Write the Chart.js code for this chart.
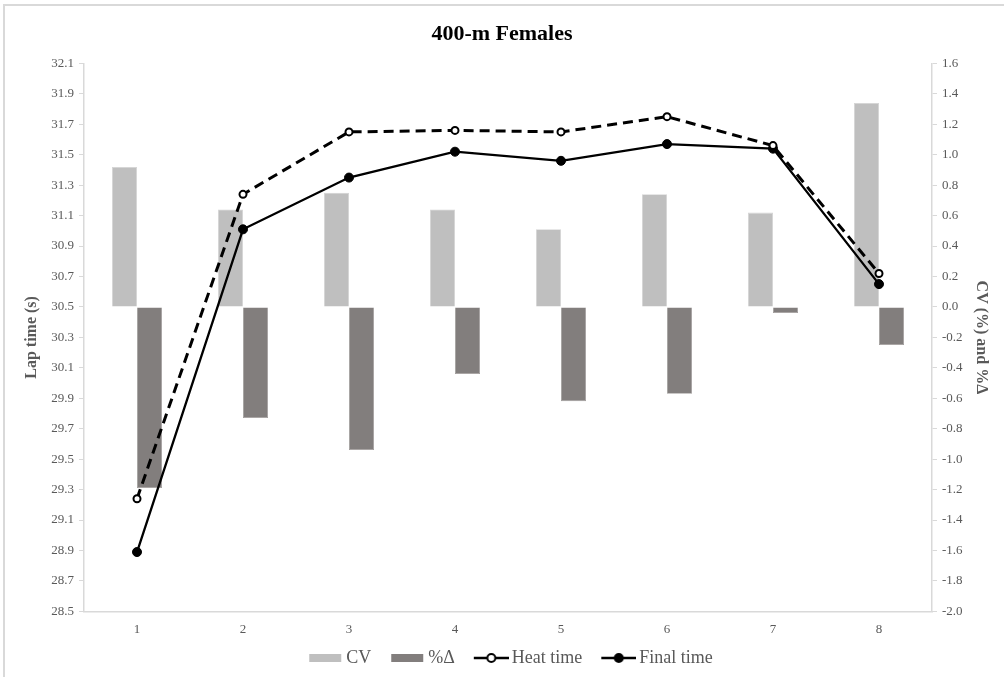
<!DOCTYPE html>
<html>
<head>
<meta charset="utf-8">
<script src="https://cdn.jsdelivr.net/npm/chart.js@4/dist/chart.umd.min.js"></script>
<style>
html,body{margin:0;padding:0;background:#fff;}
#wrap{width:1004px;height:677px;position:relative;}
</style>
</head>
<body>
<div id="wrap"><canvas id="c" width="1004" height="677"></canvas></div>
<script>
const laps = ['1','2','3','4','5','6','7','8'];
const cvValues = [0.92, 0.64, 0.75, 0.64, 0.51, 0.74, 0.62, 1.34];
const pctDelta = [-1.19, -0.73, -0.94, -0.44, -0.62, -0.57, -0.04, -0.25];
const heatTime = [29.24, 31.24, 31.65, 31.66, 31.65, 31.75, 31.56, 30.72];
const finalTime = [28.89, 31.01, 31.35, 31.52, 31.46, 31.57, 31.54, 30.65];
const leftTicks = [28.5,28.7,28.9,29.1,29.3,29.5,29.7,29.9,30.1,30.3,30.5,30.7,30.9,31.1,31.3,31.5,31.7,31.9,32.1];
const rightTicks = [-2.0,-1.8,-1.6,-1.4,-1.2,-1.0,-0.8,-0.6,-0.4,-0.2,0.0,0.2,0.4,0.6,0.8,1.0,1.2,1.4,1.6];
const legendNames = ['CV','%Δ','Heat time','Final time'];

const FONT = "'Liberation Serif', 'Times New Roman', serif";
Chart.defaults.font.family = FONT;
const GRAY_TXT = '#595959';
const AXIS_LINE = '#d9d9d9';
const CV_COL = '#bfbfbf';
const PD_COL = '#827e7d';

// legend symbol canvas (50 wide) is centred on the legend box centre
function makeSym(kind){
  const cv = document.createElement('canvas');
  cv.width = 50; cv.height = 14;
  const g = cv.getContext('2d');
  if (kind === 'cv' || kind === 'pd') {
    g.fillStyle = kind === 'cv' ? CV_COL : PD_COL;
    g.fillRect(16, 3, 32, 8);
  } else {
    g.strokeStyle = '#000'; g.lineWidth = 2.5;
    g.beginPath(); g.moveTo(15, 7); g.lineTo(50, 7); g.stroke();
    g.beginPath(); g.arc(32.5, 7, 4, 0, Math.PI*2);
    g.fillStyle = kind === 'heat' ? '#fff' : '#000';
    g.fill(); g.lineWidth = 2; g.stroke();
  }
  return cv;
}
const syms = [makeSym('cv'), makeSym('pd'), makeSym('heat'), makeSym('final')];

const framePlugin = {
  id: 'frame',
  afterLayout(chart){
    if (chart.legend) { chart.legend.left += 4; chart.legend.right += 4; }
  },
  beforeDraw(chart){
    const ctx = chart.ctx;
    ctx.save();
    ctx.fillStyle = '#fff';
    ctx.fillRect(0,0,chart.width,chart.height);
    ctx.strokeStyle = '#d9d9d9';
    ctx.lineWidth = 2;
    ctx.strokeRect(4, 5, 1100, 1000);
    ctx.restore();
  }
};

new Chart(document.getElementById('c'), {
  data: {
    labels: laps,
    datasets: [
      { type:'line', label:'Heat time', data: heatTime, yAxisID:'y', order:0,
        borderColor:'#000', borderWidth:3, borderDash:[10,6], fill:false, tension:0,
        pointRadius:3.5, pointBackgroundColor:'#fff', pointBorderColor:'#000', pointBorderWidth:2 },
      { type:'line', label:'Final time', data: finalTime, yAxisID:'y', order:0,
        borderColor:'#000', borderWidth:2.3, fill:false, tension:0,
        pointRadius:4.5, pointBackgroundColor:'#000', pointBorderColor:'#000', pointBorderWidth:1 },
      { type:'bar', label:'CV', data: cvValues, yAxisID:'y1', order:1,
        backgroundColor: CV_COL, borderColor:'#d4d4d4', borderWidth:0.8,
        categoryPercentage:0.472, barPercentage:1 },
      { type:'bar', label:'%Δ', data: pctDelta, yAxisID:'y1', order:1,
        backgroundColor: PD_COL, borderColor:'#a09c9b', borderWidth:0.8,
        categoryPercentage:0.472, barPercentage:1 }
    ]
  },
  options: {
    responsive:false,
    animation:false,
    layout:{ padding:{ left:4, right:4, top:10, bottom:0 } },
    plugins:{
      title:{ display:true, text:'400-m Females', color:'#000',
        font:{ family:FONT, size:22, weight:'bold' }, padding:{ top:11, bottom:16 } },
      tooltip:{ enabled:false },
      legend:{
        position:'bottom',
        labels:{
          usePointStyle:true, pointStyleWidth:38, boxHeight:14,
          color:GRAY_TXT, font:{ family:FONT, size:18 }, padding:10,
          generateLabels(){
            return legendNames.map((n,i)=>({ text:n, pointStyle:syms[i], fillStyle:'#000',
              strokeStyle:'#000', lineWidth:0, hidden:false, datasetIndex:i, fontColor:GRAY_TXT }));
          }
        }
      }
    },
    scales:{
      x:{
        grid:{ display:false },
        border:{ color:AXIS_LINE, width:1.5 },
        ticks:{ color:GRAY_TXT, font:{ family:FONT, size:13 }, padding:2 }
      },
      y:{
        position:'left', min:28.5, max:32.1,
        afterBuildTicks(s){ s.ticks = leftTicks.map(v=>({value:v})); },
        afterFit(s){ s.width = 80; },
        grid:{ drawOnChartArea:false, color:AXIS_LINE, tickLength:5 },
        border:{ color:AXIS_LINE, width:1.5 },
        ticks:{ color:GRAY_TXT, font:{ family:FONT, size:13 }, padding:5,
          callback:(v)=>Number(v).toFixed(1) },
        title:{ display:true, text:'Lap time (s)', color:GRAY_TXT,
          font:{ family:FONT, size:16, weight:'bold' }, padding:{ top:18, bottom:0 } }
      },
      y1:{
        position:'right', min:-2.0, max:1.6,
        afterBuildTicks(s){ s.ticks = rightTicks.map(v=>({value:v})); },
        afterFit(s){ s.width = 68; },
        grid:{ drawOnChartArea:false, color:AXIS_LINE, tickLength:5 },
        border:{ color:AXIS_LINE, width:1.5 },
        ticks:{ color:GRAY_TXT, font:{ family:FONT, size:13 }, padding:5,
          callback:(v)=>Number(v).toFixed(1) },
        title:{ display:true, text:'CV (%) and %Δ', color:GRAY_TXT,
          font:{ family:FONT, size:16, weight:'bold' }, padding:{ top:9, bottom:0 } }
      }
    }
  },
  plugins:[framePlugin]
});
</script>
</body>
</html>
